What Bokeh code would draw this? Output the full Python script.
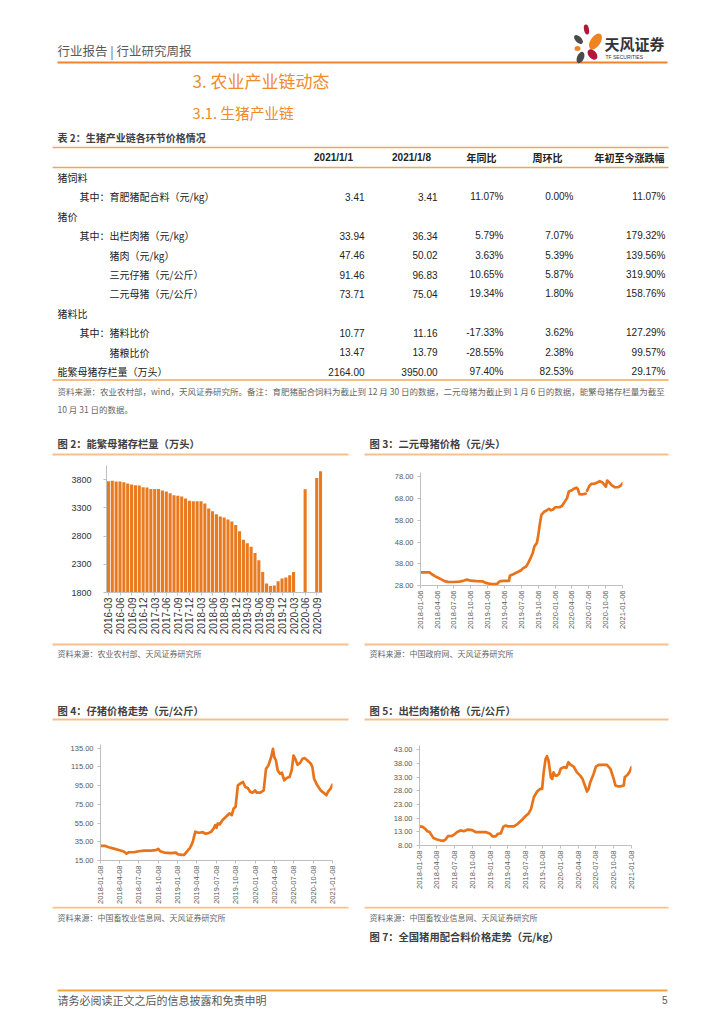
import numpy as np
import pandas as pd
from bokeh.plotting import figure
from bokeh.models import Range1d, FixedTicker, NumeralTickFormatter, DatetimeTickFormatter
from bokeh.layouts import column, row
from bokeh.core.properties import value
from bokeh.embed import file_html
from bokeh.resources import INLINE

CJK = "Noto Sans CJK SC"
LAT = "Liberation Sans"
ORANGE_TXT = "#F08A2A"
BAR = "#E97A1F"
LINE = "#E8731A"
PALE = "#F9BF8A"

# ---------------- table data ----------------
table_header = ["2021/1/1", "2021/1/8", "年同比", "周环比", "年初至今涨跌幅"]
row_prefix = ["", "其中：", "", "其中：", "", "", "", "", "其中：", "", ""]
row_labels = ["猪饲料", "育肥猪配合料（元/kg）", "猪价", "出栏肉猪（元/kg）", "猪肉（元/kg）",
              "三元仔猪（元/公斤）", "二元母猪（元/公斤）", "猪料比", "猪料比价", "猪粮比价",
              "能繁母猪存栏量（万头）"]
row_level = [0, 2, 0, 2, 2, 2, 2, 0, 2, 2, 0]
price_jan1 = [None, 3.41, None, 33.94, 47.46, 91.46, 73.71, None, 10.77, 13.47, 2164.00]
price_jan8 = [None, 3.41, None, 36.34, 50.02, 96.83, 75.04, None, 11.16, 13.79, 3950.00]
yoy_pct = [None, 11.07, None, 5.79, 3.63, 10.65, 19.34, None, -17.33, -28.55, 97.40]
wow_pct = [None, 0.00, None, 7.07, 5.39, 5.87, 1.80, None, 3.62, 2.38, 82.53]
ytd_pct = [None, 11.07, None, 179.32, 139.56, 319.90, 158.76, None, 127.29, 99.57, 29.17]

# ---------------- chart 2: sow inventory ----------------
sow_months = [str(m) for m in pd.period_range("2016-03", "2020-10", freq="M")]
sow_values = [3771, 3782, 3765, 3765, 3753, 3730, 3712, 3700, 3694, 3665,
              3660, 3635, 3635, 3635, 3606, 3588, 3559, 3524, 3512, 3500, 3465, 3424,
              3418, 3418, 3418, 3377, 3288, 3241, 3188, 3147, 3130, 3094, 3059, 2994,
              2883, 2736, 2671, 2612, 2500, 2371, 2165, 1960, 1913, 1924, 2000, 2048,
              2065, 2107, 2164, None, None, 3630, None, None, 3830, 3950]
sow_ticks = list(range(0, 56, 3))

# ---------------- chart 3: binary sow price ----------------
sow_price_dates = ["2018-01-06", "2018-02-25", "2018-03-08", "2018-03-25", "2018-04-06", "2018-04-29",
                   "2018-05-16", "2018-06-03", "2018-07-06", "2018-08-06", "2018-09-01", "2018-09-14",
                   "2018-10-06", "2018-11-06", "2018-12-10", "2018-12-22", "2019-01-06", "2019-01-28",
                   "2019-02-24", "2019-03-05", "2019-03-15", "2019-04-06", "2019-05-01", "2019-05-06",
                   "2019-05-24", "2019-06-12", "2019-07-06", "2019-07-17", "2019-08-01", "2019-08-10",
                   "2019-08-23", "2019-09-07", "2019-09-16", "2019-09-29", "2019-10-06", "2019-10-15",
                   "2019-10-24", "2019-11-06", "2019-11-21", "2019-12-04", "2019-12-15", "2019-12-27",
                   "2020-01-06", "2020-01-30", "2020-02-12", "2020-02-25", "2020-03-11", "2020-03-21",
                   "2020-04-06", "2020-04-15", "2020-04-30", "2020-05-07", "2020-05-18", "2020-05-31",
                   "2020-06-20", "2020-06-24", "2020-06-28", "2020-07-10", "2020-07-22", "2020-08-09",
                   "2020-08-22", "2020-09-05", "2020-09-18", "2020-09-29", "2020-10-08", "2020-10-15",
                   "2020-10-26", "2020-11-08", "2020-11-26", "2020-12-14", "2020-12-27", "2021-01-06"]
sow_price_values = [34.0, 34.0, 33.2, 32.3, 31.8, 30.8,
                    30.0, 29.7, 29.6, 29.8, 30.3, 30.7,
                    30.2, 30.0, 29.9, 29.3, 29.0, 28.7,
                    28.6, 29.4, 30.0, 30.1, 30.1, 32.5,
                    33.2, 34.0, 35.0, 36.0, 36.6, 37.8,
                    40.0, 43.0, 46.0, 47.5, 50.5, 56.0,
                    60.5, 61.8, 62.5, 63.3, 62.6, 63.0,
                    64.0, 64.0, 64.6, 66.2, 68.2, 71.3,
                    71.8, 72.4, 73.0, 72.6, 70.0, 69.9,
                    70.3, None, 71.6, 73.8, 74.8, 74.9,
                    75.4, 76.0, 75.5, 74.4, 73.5, 76.3,
                    75.5, 74.2, 73.2, 73.3, 74.0, 75.0]
sow_price_ticks = ["2018-01-06", "2018-04-06", "2018-07-06", "2018-10-06", "2019-01-06", "2019-04-06",
                   "2019-07-06", "2019-10-06", "2020-01-06", "2020-04-06", "2020-07-06", "2020-10-06",
                   "2021-01-06"]

# ---------------- chart 4: piglet price ----------------
piglet_dates = ["2018-01-08", "2018-01-31", "2018-02-16", "2018-03-12", "2018-04-08", "2018-04-28",
                "2018-05-11", "2018-05-22", "2018-06-15", "2018-07-08", "2018-08-02", "2018-09-03",
                "2018-09-26", "2018-10-08", "2018-10-17", "2018-11-05", "2018-12-07", "2018-12-30",
                "2019-01-08", "2019-01-25", "2019-02-07", "2019-02-18", "2019-02-26", "2019-03-06",
                "2019-03-14", "2019-03-21", "2019-04-01", "2019-04-08", "2019-04-21", "2019-05-06",
                "2019-05-17", "2019-05-30", "2019-06-15", "2019-06-27", "2019-07-04", "2019-07-10",
                "2019-07-16", "2019-07-25", "2019-08-08", "2019-08-24", "2019-09-09", "2019-09-20",
                "2019-09-29", "2019-10-08", "2019-10-19", "2019-10-30", "2019-11-12", "2019-11-23",
                "2019-12-05", "2019-12-16", "2019-12-29", "2020-01-08", "2020-01-16", "2020-02-02",
                "2020-02-18", "2020-02-29", "2020-03-11", "2020-03-24", "2020-04-02", "2020-04-08",
                "2020-04-16", "2020-04-24", "2020-05-05", "2020-05-14", "2020-05-25", "2020-06-07",
                "2020-06-19", "2020-06-29", "2020-07-08", "2020-07-16", "2020-07-27", "2020-08-08",
                "2020-08-19", "2020-08-30", "2020-09-12", "2020-09-28", "2020-10-05", "2020-10-13",
                "2020-10-28", "2020-11-13", "2020-12-02", "2020-12-10", "2020-12-19", "2020-12-30",
                "2021-01-08"]
piglet_values = [30.6, 30.6, 29.2, 27.7, 26.0, 24.6,
                 22.4, 23.8, 23.8, 24.9, 25.6, 25.6,
                 26.0, 27.4, 24.9, 23.5, 22.8, 23.5,
                 21.7, 21.0, 21.0, 23.8, 26.3, 28.1,
                 31.6, 35.9, 45.8, 45.1, 44.7, 45.4,
                 43.7, 44.0, 45.8, 49.3, 52.9, 50.0,
                 54.6, 53.6, 58.2, 61.7, 65.3, 63.5,
                 70.6, 72.3, 95.4, 97.1, 98.9, 93.6,
                 92.5, 88.3, 87.6, 90.0, 87.6, 87.6,
                 90.0, 113.1, 116.6, 125.4, 134.3, 125.4,
                 121.9, 111.3, 107.7, 108.8, 100.7, 103.5,
                 104.2, 111.3, 127.2, 123.7, 117.3, 119.4,
                 123.7, 124.4, 121.9, 118.4, 114.8, 102.4,
                 95.4, 90.0, 86.5, 84.7, 89.0, 91.8,
                 96.1]
piglet_ticks = ["2018-01-08", "2018-04-08", "2018-07-08", "2018-10-08", "2019-01-08", "2019-04-08",
                "2019-07-08", "2019-10-08", "2020-01-08", "2020-04-08", "2020-07-08", "2020-10-08",
                "2021-01-08"]

# ---------------- chart 5: market hog price ----------------
hog_dates = ["2018-01-08", "2018-01-25", "2018-02-06", "2018-02-18", "2018-03-01", "2018-03-13",
             "2018-03-21", "2018-04-08", "2018-04-25", "2018-05-12", "2018-05-23", "2018-06-04",
             "2018-06-25", "2018-07-08", "2018-07-22", "2018-08-08", "2018-08-25", "2018-09-15",
             "2018-10-08", "2018-10-25", "2018-11-20", "2018-12-16", "2019-01-08", "2019-01-20",
             "2019-02-06", "2019-02-18", "2019-03-04", "2019-03-18", "2019-03-30", "2019-04-08",
             "2019-04-24", "2019-05-11", "2019-05-31", "2019-06-18", "2019-07-08", "2019-07-27",
             "2019-08-08", "2019-08-22", "2019-09-08", "2019-09-25", "2019-10-04", "2019-10-12",
             "2019-10-22", "2019-10-29", "2019-11-06", "2019-11-18", "2019-11-25", "2019-12-02",
             "2019-12-11", "2019-12-19", "2019-12-30", "2020-01-08", "2020-01-24", "2020-02-06",
             "2020-02-17", "2020-02-27", "2020-03-15", "2020-04-01", "2020-04-18", "2020-04-30",
             "2020-05-12", "2020-05-23", "2020-05-31", "2020-06-09", "2020-06-26", "2020-07-08",
             "2020-07-22", "2020-08-08", "2020-09-03", "2020-09-21", "2020-10-08", "2020-10-17",
             "2020-10-29", "2020-11-12", "2020-11-29", "2020-12-04", "2020-12-20", "2020-12-30",
             "2021-01-08"]
hog_values = [15.0, 14.8, 14.1, 13.2, 12.9, 11.6,
              10.7, 10.2, 9.9, 9.7, 10.2, 11.4,
              11.5, 12.1, 12.9, 13.5, 13.2, 13.8,
              13.6, 12.9, 12.9, 12.9, 12.3, 11.3,
              11.3, 12.3, 12.4, 14.9, 15.3, 15.0,
              15.0, 15.0, 15.9, 17.1, 18.6, 19.8,
              21.4, 25.6, 27.7, 28.7, 28.7, 34.7,
              39.6, 40.6, 39.0, 32.9, 32.3, 34.7,
              33.5, 33.5, 34.1, 36.0, 36.6, 36.3,
              38.4, 37.5, 36.8, 34.7, 33.5, 32.3,
              29.9, 27.7, 28.7, 31.1, 34.1, 36.8,
              37.4, 37.4, 37.4, 36.0, 32.3, 29.9,
              29.6, 29.6, 29.9, 32.9, 33.9, 35.0,
              36.6]
hog_ticks = piglet_ticks


# ---------------- helpers ----------------
def canvas(w, h, y0):
    p = figure(width=w, height=h, x_range=Range1d(0, w), y_range=Range1d(y0 + h, y0),
               x_axis_type=None, y_axis_type=None, output_backend="svg", toolbar_location=None,
               min_border_left=0, min_border_right=0, min_border_top=0, min_border_bottom=0)
    p.outline_line_color = None
    p.background_fill_color = "white"
    p.border_fill_color = "white"
    return p


def put(p, xs, ys, texts, size, color="#222222", font=CJK, bold=False, align="left"):
    p.text(x=xs, y=ys, text=texts, text_font=value(font), text_font_size=f"{size}px",
           text_color=color, text_align=align, text_baseline="middle",
           text_font_style="bold" if bold else "normal")


def hline(p, x0, x1, y, color, width):
    p.segment(x0=[x0], y0=[y], x1=[x1], y1=[y], line_color=color, line_width=width)


def style_axes(p, label_size, label_color, standoff):
    for ax in (p.xaxis[0], p.yaxis[0]):
        ax.axis_line_color = "#BFBFBF"
        ax.major_tick_line_color = "#BFBFBF"
        ax.major_tick_in = 0
        ax.major_tick_out = 3
        ax.minor_tick_line_color = None
        ax.major_label_text_font = LAT
        ax.major_label_text_font_size = f"{label_size}px"
        ax.major_label_text_color = label_color
    p.yaxis[0].major_label_standoff = standoff
    p.xaxis[0].major_label_standoff = 2
    p.xaxis[0].major_label_orientation = np.pi / 2
    p.xgrid.visible = False
    p.ygrid.visible = False
    p.outline_line_color = None
    p.background_fill_color = "white"
    p.border_fill_color = "white"


def ms(d):
    return pd.Timestamp(d).value / 1e6


def line_chart(w, h, borders, dates, vals, ticks, y_lo, y_hi, y_ticks, label_size, standoff):
    l, r, t, b = borders
    p = figure(width=w, height=h, x_axis_type="datetime",
               x_range=Range1d(pd.Timestamp(ticks[0]), pd.Timestamp(ticks[-1])),
               y_range=Range1d(y_lo, y_hi), output_backend="svg", toolbar_location=None,
               min_border_left=l, min_border_right=r, min_border_top=t, min_border_bottom=b)
    p.line(pd.to_datetime(dates), np.array([np.nan if v is None else v for v in vals], dtype=float),
           line_color=LINE, line_width=2.7, line_join="round", line_cap="round")
    style_axes(p, label_size, "#595959", standoff)
    p.xaxis[0].ticker = FixedTicker(ticks=[ms(d) for d in ticks], minor_ticks=[])
    fmt = "%Y-%m-%d"
    p.xaxis[0].formatter = DatetimeTickFormatter(milliseconds=fmt, seconds=fmt, minsec=fmt, minutes=fmt,
                                                 hourmin=fmt, hours=fmt, days=fmt, months=fmt, years=fmt)
    p.yaxis[0].ticker = FixedTicker(ticks=y_ticks, minor_ticks=[])
    p.yaxis[0].formatter = NumeralTickFormatter(format="0.00")
    return p


# ---------------- top canvas (page y 0..462) ----------------
top = canvas(724, 462, 0)
# header
put(top, [57], [50], ["行业报告 | 行业研究周报"], 12.5, "#595959")
hline(top, 57, 667, 62, "#EE8431", 2)
# logo
top.ellipse(x=[586, 578, 595, 577, 592, 580], y=[29, 39, 41, 48, 54, 57],
            width=[5, 6, 10, 6, 8, 7], height=[10, 11, 18, 5, 12, 12],
            angle=[0.2, 0.8, -0.6, 0.0, 0.7, -0.4],
            fill_color=["#B0173A", "#4A4A4A", "#EE8421", "#EE8421", "#B0173A", "#4A4A4A"],
            line_color=None)
put(top, [604], [43], ["天风证券"], 15, "#333333", bold=True)
put(top, [605], [56], ["TF SECURITIES"], 5, "#333333", font=LAT)
# section titles
put(top, [192], [80], ["3. 农业产业链动态"], 17, ORANGE_TXT)
put(top, [192], [112], ["3.1. 生猪产业链"], 14.7, ORANGE_TXT)
put(top, [57], [137], ["表 2：生猪产业链各环节价格情况"], 10, "#404040", bold=True)
# table
hline(top, 52, 668, 147, "#F2A65A", 1.5)
hline(top, 52, 668, 167, "#F2A65A", 1.5)
head_x = [333, 411, 481, 547, 629]
put(top, head_x[:2], [157, 157], table_header[:2], 10, "#222222", font=LAT, bold=True, align="center")
put(top, head_x[2:], [157] * 3, table_header[2:], 10, "#222222", bold=True, align="center")

row_y = [177 + 19.4 * i for i in range(len(row_labels))]
lab_x = {0: 57, 2: 109}
put(top, [lab_x[lv] for lv in row_level], row_y, row_labels, 10, "#222222")
pre_idx = [i for i, s in enumerate(row_prefix) if s]
put(top, [79] * len(pre_idx), [row_y[i] for i in pre_idx], [row_prefix[i] for i in pre_idx], 10, "#222222")

val_right = [364, 437, 503, 573, 665]
cols = [(price_jan1, "{:.2f}"), (price_jan8, "{:.2f}"), (yoy_pct, "{:.2f}%"),
        (wow_pct, "{:.2f}%"), (ytd_pct, "{:.2f}%")]
for (vals, f), xr in zip(cols, val_right):
    idx = [i for i, v in enumerate(vals) if v is not None]
    put(top, [xr] * len(idx), [row_y[i] for i in idx], [f.format(vals[i]) for i in idx],
        10, "#222222", font=LAT, align="right")
hline(top, 52, 668, row_y[-1] + 8.5, "#F2A65A", 1.5)
put(top, [57], [row_y[-1] + 19], [
    "资料来源：农业农村部，wind，天风证券研究所。备注：育肥猪配合饲料为截止到 12 月 30 日的数据，二元母猪为截止到 1 月 6 日的数据，能繁母猪存栏量为截至"],
    8.5, "#666666")
put(top, [57], [row_y[-1] + 37], ["10 月 31 日的数据。"], 8.5, "#666666")
# chart titles row B
put(top, [57], [443], ["图 2：能繁母猪存栏量（万头）"], 10.3, "#404040", bold=True)
put(top, [369], [443], ["图 3：二元母猪价格（元/头）"], 10.3, "#404040", bold=True)
hline(top, 52, 348, 454, PALE, 2)
hline(top, 364, 668, 454, PALE, 2)

# ---------------- chart 2 (bars) ----------------
c2 = figure(width=360, height=180, x_range=Range1d(-0.5, len(sow_months) - 0.5),
            y_range=Range1d(1800, 4050), output_backend="svg", toolbar_location=None,
            min_border_left=106, min_border_right=38, min_border_top=3, min_border_bottom=50)
bx = [i for i, v in enumerate(sow_values) if v is not None]
c2.vbar(x=bx, top=[sow_values[i] for i in bx], bottom=1800, width=0.8,
        fill_color=BAR, line_color=None)
style_axes(c2, 9, "#333333", 12)
c2.xaxis[0].major_label_text_font_size = "10px"
c2.xaxis[0].ticker = FixedTicker(ticks=sow_ticks, minor_ticks=[])
c2.xaxis[0].major_label_overrides = {i: sow_months[i] for i in sow_ticks}
c2.yaxis[0].ticker = FixedTicker(ticks=[1800, 2300, 2800, 3300, 3800], minor_ticks=[])

# ---------------- chart 3 ----------------
c3 = line_chart(364, 180, (60, 102, 10, 57), sow_price_dates, sow_price_values, sow_price_ticks,
                28, 80, [28, 38, 48, 58, 68, 78], 7.5, 4)

# ---------------- middle canvas (page y 642..728) ----------------
mid = canvas(724, 86, 642)
hline(mid, 52, 348, 644, PALE, 2)
hline(mid, 364, 668, 644, PALE, 2)
put(mid, [57], [653], ["资料来源：农业农村部、天风证券研究所"], 8, "#666666")
put(mid, [369], [653], ["资料来源：中国政府网、天风证券研究所"], 8, "#666666")
put(mid, [57], [710], ["图 4：仔猪价格走势（元/公斤）"], 10.3, "#404040", bold=True)
put(mid, [369], [710], ["图 5：出栏肉猪价格（元/公斤）"], 10.3, "#404040", bold=True)
hline(mid, 52, 348, 719, PALE, 2)
hline(mid, 364, 668, 719, PALE, 2)

# ---------------- chart 4 & 5 ----------------
c4 = line_chart(360, 178, (100, 28, 16, 45), piglet_dates, piglet_values, piglet_ticks,
                15, 139, [15, 35, 55, 75, 95, 115, 135], 7.5, 4)
c5 = line_chart(364, 178, (59, 93, 17, 61), hog_dates, hog_values, hog_ticks,
                8, 44.5, [8, 13, 18, 23, 28, 33, 38, 43], 7.5, 4)

# ---------------- bottom canvas (page y 906..1016) ----------------
bot = canvas(724, 110, 906)
hline(bot, 52, 348, 907, PALE, 2)
hline(bot, 364, 668, 907, PALE, 2)
put(bot, [57], [917], ["资料来源：中国畜牧业信息网、天风证券研究所"], 8, "#666666")
put(bot, [369], [917], ["资料来源：中国畜牧业信息网、天风证券研究所"], 8, "#666666")
put(bot, [369], [936], ["图 7：全国猪用配合料价格走势（元/kg）"], 10.3, "#404040", bold=True)
hline(bot, 57, 667, 990, "#F2A33A", 2)
put(bot, [57], [999], ["请务必阅读正文之后的信息披露和免责申明"], 11, "#595959")
put(bot, [667], [999], ["5"], 10, "#595959", font=LAT, align="right")

# each chart wrapped in its own column so that frames are not aligned across the row
row_b = row(column(c2, spacing=0), column(c3, spacing=0), spacing=0)
row_c = row(column(c4, spacing=0), column(c5, spacing=0), spacing=0)
page = column(top, row_b, mid, row_c, bot, spacing=0)

open("out.html", "w").write(file_html(page, INLINE))
